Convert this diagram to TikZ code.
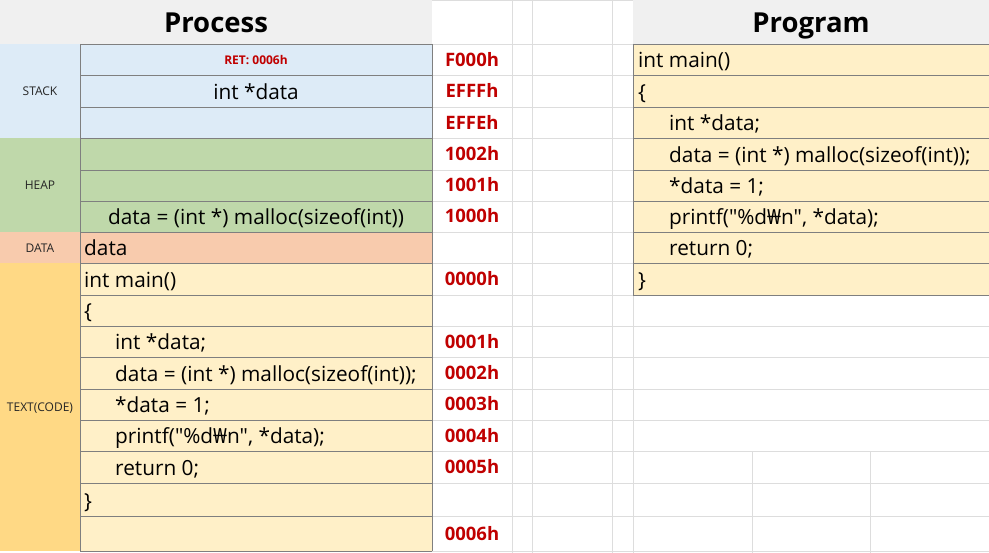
\documentclass[tikz,border=0pt]{standalone}
\usepackage{fontspec}
\setmainfont{Open Sans}[Ligatures=TeXOff]
\newfontfamily\wonfont{Noto Sans}
\newcommand{\won}{{\wonfont ₩}}
\newcommand{\dq}{\symbol{34}}
\definecolor{hdrgray}{HTML}{F0F0F0}
\definecolor{stackblue}{HTML}{DDEBF7}
\definecolor{heapgreen}{HTML}{BFD8AA}
\definecolor{dataorange}{HTML}{F8CBAD}
\definecolor{textlabel}{HTML}{FFD985}
\definecolor{textbody}{HTML}{FFF0C8}
\definecolor{addrred}{HTML}{C00000}
\definecolor{gridgray}{HTML}{DDDDDD}
\definecolor{cellline}{HTML}{7F7F7F}
\begin{document}
\begin{tikzpicture}[x=1pt,y=-1pt,
  grid/.style={draw=gridgray,line width=0.9pt},
  cell/.style={draw=cellline,line width=0.8pt},
  hdr/.style={inner sep=0pt,anchor=base,font=\fontsize{27.5}{30}\selectfont\bfseries},
  seg/.style={inner sep=0pt,anchor=base,font=\fontsize{12}{14}\selectfont,text=black!85},
  code/.style={inner sep=0pt,anchor=base west,font=\fontsize{20.8}{24}\selectfont},
  ccode/.style={code,anchor=base},
  addr/.style={inner sep=0pt,anchor=base,font=\fontsize{18.5}{22}\selectfont\bfseries,text=addrred},
  ret/.style={inner sep=0pt,anchor=base,font=\fontsize{12}{14}\selectfont\bfseries,text=addrred}]
\useasboundingbox (0,0) rectangle (989,553);
\fill[white] (0,0) rectangle (989,553);
% spreadsheet grid
\draw[grid] (0,0.5) -- (989,0.5);
\foreach \y in {44,75.5,107,138.5,170,201,232,263.5,295,326,357.5,389,420,451.5,483,516.5,551}
  \draw[grid] (432,\y) -- (989,\y);
\foreach \x in {512,532,612,633}
  \draw[grid] (\x,0) -- (\x,553);
\foreach \x in {752,870}
  \draw[grid] (\x,451.5) -- (\x,553);
% headers
\fill[hdrgray] (0,0) rectangle (432,44);
\fill[hdrgray] (633,0) rectangle (989,44);
\node[hdr] (process) at (216,33) {Process};
\node[hdr] (program) at (811,33) {Program};
% segment fills
\fill[stackblue] (0,44) rectangle (432,138.5);
\fill[heapgreen] (0,138.5) rectangle (432,232);
\fill[dataorange] (0,232) rectangle (432,263.5);
\fill[textlabel] (0,263.5) rectangle (80,551);
\fill[textbody] (80,263.5) rectangle (432,551);
\fill[textbody] (633,44) rectangle (989,295);
% cell borders
\foreach \y in {44,75.5,107,138.5,170,201,232,263.5,295,326,357.5,389,420,451.5,483,516.5,551}
  \draw[cell] (80,\y) -- (432,\y);
\draw[cell] (80,44) -- (80,551);
\draw[cell] (432,44) -- (432,551);
\foreach \y in {44,75.5,107,138.5,170,201,232,263.5,295}
  \draw[cell] (633,\y) -- (989,\y);
\draw[cell] (633,44) -- (633,295);
% segment labels
\node[seg] (lstack) at (40,96) {STACK};
\node[seg] (lheap) at (40,190) {HEAP};
\node[seg] (ldata) at (40,252.5) {DATA};
\node[seg] (ltext) at (40,412) {TEXT(CODE)};
% process contents
\node[ret] (ret) at (256,64.5) {RET: 0006h};
\node[ccode] (sdata) at (256,99.5) {int *data};
\node[ccode] (hdata) at (256,225) {data = (int *) malloc(sizeof(int))};
\node[code] (ddata) at (84,256) {data};
\node[code] (p1) at (84,287.5) {int main()};
\node[code] (p2) at (84,319) {\{};
\node[code] (p3) at (115,350) {int *data;};
\node[code] (p4) at (115,381.5) {data = (int *) malloc(sizeof(int));};
\node[code] (p5) at (115,413) {*data = 1;};
\node[code] (p6) at (115,444) {printf(\dq\%d\won n\dq, *data);};
\node[code] (p7) at (115,475.5) {return 0;};
\node[code] (p8) at (84,508) {\}};
% addresses
\node[addr] (a1) at (472,66.5) {F000h};
\node[addr] (a2) at (472,98) {EFFFh};
\node[addr] (a3) at (472,129.5) {EFFEh};
\node[addr] (a4) at (472,161) {1002h};
\node[addr] (a5) at (472,192) {1001h};
\node[addr] (a6) at (472,223) {1000h};
\node[addr] (a7) at (472,286) {0000h};
\node[addr] (a8) at (472,348.5) {0001h};
\node[addr] (a9) at (472,380) {0002h};
\node[addr] (a10) at (472,411) {0003h};
\node[addr] (a11) at (472,442.5) {0004h};
\node[addr] (a12) at (472,474) {0005h};
\node[addr] (a13) at (472,540.5) {0006h};
% program contents
\node[code] (q1) at (638,68) {int main()};
\node[code] (q2) at (638,99.5) {\{};
\node[code] (q3) at (669,131) {int *data;};
\node[code] (q4) at (669,162.5) {data = (int *) malloc(sizeof(int));};
\node[code] (q5) at (669,193.5) {*data = 1;};
\node[code] (q6) at (669,225) {printf(\dq\%d\won n\dq, *data);};
\node[code] (q7) at (669,256) {return 0;};
\node[code] (q8) at (638,287.5) {\}};
\end{tikzpicture}
\end{document}
